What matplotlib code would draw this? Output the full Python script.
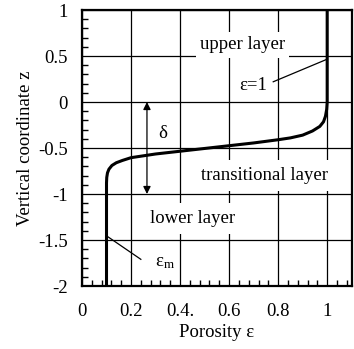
import matplotlib
matplotlib.use('Agg')
import matplotlib.pyplot as plt
from matplotlib.ticker import MultipleLocator

plt.rcParams['font.family'] = ['Liberation Serif', 'DejaVu Serif']
plt.rcParams['mathtext.fontset'] = 'custom'
plt.rcParams['mathtext.rm'] = 'Liberation Serif'
plt.rcParams['mathtext.it'] = 'Liberation Serif'

# porosity profile
porosity = [0.1, 0.1, 0.101, 0.104, 0.11, 0.122, 0.14, 0.165, 0.2, 0.3, 0.4,
            0.5, 0.6, 0.7, 0.8, 0.85, 0.9, 0.94, 0.97, 0.985, 0.993, 0.998, 1.0, 1.0]
z = [-2.0, -0.88, -0.82, -0.77, -0.73, -0.69, -0.66, -0.635, -0.605, -0.565, -0.535,
     -0.505, -0.475, -0.445, -0.41, -0.39, -0.36, -0.315, -0.265, -0.215, -0.155,
     -0.08, 0.0, 1.0]

xticks = [0, 0.2, 0.4, 0.6, 0.8, 1]
xticklabels = ['0', '0.2', '0.4.', '0.6', '0.8', '1']
yticks = [-2, -1.5, -1, -0.5, 0, 0.5, 1]
yticklabels = ['-2', '-1.5', '-1', '-0.5', '0', '0.5', '1']

fig = plt.figure(figsize=(3.54, 3.49), dpi=100)
ax = fig.add_axes([0.2316, 0.1805, 0.7619, 0.7908])

ax.set_xlim(0, 1.1)
ax.set_ylim(-2, 1)
ax.set_xticks(xticks)
ax.set_xticklabels(xticklabels)
ax.set_yticks(yticks)
ax.set_yticklabels(yticklabels)
ax.xaxis.set_minor_locator(MultipleLocator(0.04))
ax.yaxis.set_minor_locator(MultipleLocator(0.1))
ax.grid(True, which='major', color='black', linewidth=0.9, zorder=1)
ax.tick_params(which='major', direction='in', length=0, labelsize=13.5)
ax.tick_params(axis='x', which='major', pad=12)
ax.tick_params(axis='y', which='major', pad=10)
ax.tick_params(which='minor', direction='in', length=4, width=1)
for s in ax.spines.values():
    s.set_linewidth(1.6)

ax.plot(porosity, z, color='black', linewidth=2.2, zorder=3)

fs = 13.5
ax.text(0.655, 0.62, 'upper layer', fontsize=fs, ha='center', va='center',
        bbox=dict(facecolor='white', edgecolor='none', pad=3), zorder=2)
ax.text(0.70, 0.18, 'ε=1', fontsize=fs, ha='center', va='center',
        bbox=dict(facecolor='white', edgecolor='none', pad=5), zorder=2)
ax.plot([0.78, 0.995], [0.22, 0.46], color='black', linewidth=0.9, zorder=3)

ax.annotate('', xy=(0.265, 0.0), xytext=(0.265, -1.0),
            arrowprops=dict(arrowstyle='<|-|>', color='black', lw=0.9,
                            mutation_scale=11, shrinkA=0, shrinkB=0), zorder=3)
ax.text(0.33, -0.34, 'δ', fontsize=fs, ha='center', va='center', zorder=3)

ax.text(0.745, -0.80, 'transitional layer', fontsize=fs, ha='center', va='center',
        bbox=dict(facecolor='white', edgecolor='none', pad=5), zorder=2)
ax.text(0.45, -1.27, 'lower layer', fontsize=fs, ha='center', va='center',
        bbox=dict(facecolor='white', edgecolor='none', pad=5), zorder=2)
ax.text(0.34, -1.74, r'$\mathrm{ε_m}$', fontsize=fs, ha='center', va='center', zorder=3)
ax.plot([0.103, 0.24], [-1.46, -1.71], color='black', linewidth=0.9, zorder=3)

ax.set_xlabel('Porosity ε', fontsize=fs, labelpad=3)
ax.set_ylabel('Vertical coordinate z', fontsize=fs, labelpad=3)

plt.savefig('out.png', dpi=100)
